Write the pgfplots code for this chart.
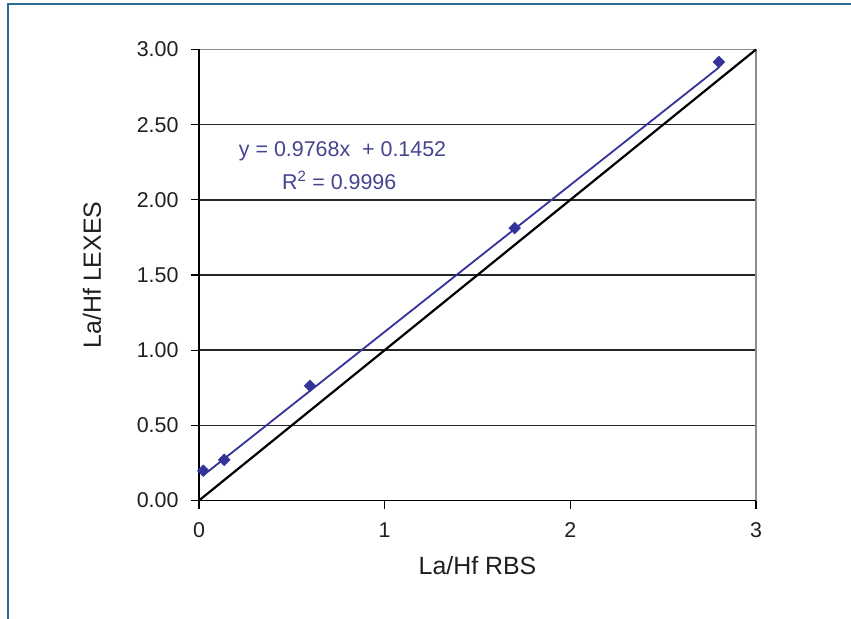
\documentclass[border=0pt]{standalone}
\usepackage{fontspec}
\setmainfont{Liberation Sans}
\usepackage{pgfplots}
\pgfplotsset{compat=1.18}
\definecolor{seriesblue}{HTML}{333399}
\definecolor{framecol}{HTML}{2E6A94}
\definecolor{fitlabel}{HTML}{44448F}
\definecolor{boxgray}{HTML}{8C8C8C}
\begin{document}
\begin{tikzpicture}
\begin{axis}[
  at={(199bp,118.5bp)}, anchor=south west,
  scale only axis, width=557bp, height=451bp,
  xmin=0, xmax=3, ymin=0, ymax=3,
  xtick={0,1,2,3},
  ytick={0,0.5,1,1.5,2,2.5,3},
  /pgf/number format/assume math mode=true,
  yticklabel style={/pgf/number format/.cd, fixed, fixed zerofill, precision=2, /tikz/.cd, xshift=-9bp},
  xticklabel style={/pgf/number format/.cd, fixed, precision=0, /tikz/.cd, yshift=-11bp},
  tick label style={font=\fontsize{21.5}{25}\selectfont, text=black!88},
  tick align=outside,
  major tick length=8bp,
  tick style={black, line width=1.3bp},
  xtick pos=bottom, ytick pos=left,
  ymajorgrids,
  major grid style={black!85, line width=1.4bp},
  axis line style={boxgray, line width=1.6bp},
  xlabel={La/Hf RBS},
  ylabel={La/Hf LEXES},
  every axis x label/.style={at={(axis description cs:0.5,-0.145)}, anchor=center,
    font=\fontsize{25}{30}\selectfont, text=black!88},
  every axis y label/.style={at={(axis description cs:-0.192,0.5)}, rotate=90, anchor=center,
    font=\fontsize{25}{30}\selectfont, text=black!88},
  clip=false,
]
% left and bottom axes in black
\draw[black, line width=1.6bp] (axis cs:0,3) -- (axis cs:0,0) -- (axis cs:3,0);
% 1:1 reference line
\addplot[black, line width=2.2bp] coordinates {(0,0) (3,3)};
% linear fit y = 0.9768x + 0.1452 over the data range
\addplot[seriesblue, line width=1.8bp] coordinates {(0.023,0.1677) (2.80,2.8802)};
% measured ratios
\addplot[only marks, mark=square*, mark size=4.2bp,
  mark options={rotate=45, fill=seriesblue, draw=seriesblue}]
  coordinates {(0.023,0.198) (0.136,0.270) (0.598,0.763) (1.70,1.812) (2.80,2.917)};
\node[text=fitlabel, font=\fontsize{21.5}{25}\selectfont] at (axis cs:0.773,2.32) {y = 0.9768x\ \ + 0.1452};
\node[text=fitlabel, font=\fontsize{21.5}{25}\selectfont] at (axis cs:0.755,2.13) {R\textsuperscript{2} = 0.9996};
\end{axis}
\pgfresetboundingbox
\path[use as bounding box] (0,0) rectangle (851bp,619bp);
\draw[framecol, line width=2bp] (8bp,-2bp) -- (8bp,615bp) -- (853bp,615bp);
\end{tikzpicture}
\end{document}
